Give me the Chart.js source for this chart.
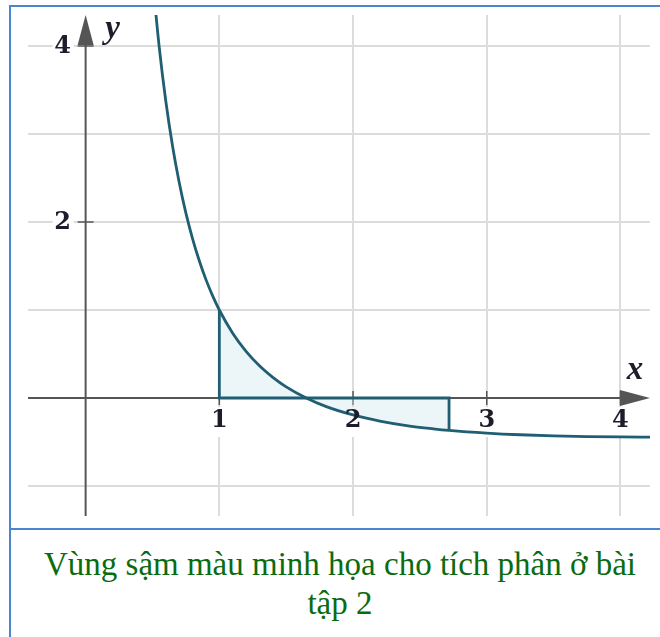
<!DOCTYPE html>
<html>
<head>
<meta charset="utf-8">
<script src="https://cdn.jsdelivr.net/npm/chart.js@4.4.1/dist/chart.umd.min.js"></script>
<style>
  body { margin: 0; background: #fff; width: 660px; height: 637px; overflow: hidden; position: relative; }
  .frame-top { position: absolute; left: 9px; top: 5px; width: 660px; height: 2px; background: #4a86d0; }
  .frame-left { position: absolute; left: 9px; top: 5px; width: 2px; height: 640px; background: #4a86d0; }
  .frame-sep { position: absolute; left: 9px; top: 528px; width: 660px; height: 2px; background: #4a86d0; }
  #plot { position: absolute; left: 0; top: 0; }
  .caption {
    position: absolute; left: 10px; top: 545px; width: 660px;
    text-align: center; font-family: "Liberation Serif", serif; font-size: 33px;
    line-height: 39px; color: #0b6b0f;
  }
</style>
</head>
<body>
<div class="frame-top"></div>
<div class="frame-left"></div>
<div class="frame-sep"></div>
<canvas id="plot" width="660" height="528"></canvas>
<div class="caption">Vùng sậm màu minh họa cho tích phân ở bài<br>tập 2</div>

<script>
// curve points
const curveX = [0.5, 0.55, 0.6, 0.65, 0.7, 0.75, 0.8, 0.85, 0.9, 0.95, 1.0, 1.1, 1.2, 1.3, 1.4, 1.5, 1.65, 1.8, 2.0, 2.2, 2.4, 2.6, 2.718, 3.0, 3.25, 3.5, 3.75, 4.0, 4.25]
const curveY = [4.773, 3.992, 3.369, 2.864, 2.448, 2.1, 1.808, 1.559, 1.345, 1.161, 1.0, 0.736, 0.53, 0.366, 0.234, 0.126, 0.0, -0.098, -0.193, -0.262, -0.313, -0.35, -0.368, -0.399, -0.418, -0.43, -0.438, -0.443, -0.446]

// shaded region: x from 1 to e
const shadeFrom = 1
const shadeTo = 2.718
const outlineX = [1, 1, 2.718, 2.718]
const outlineY = [1, 0, 0, -0.368]

const xGridValues = [1, 2, 3, 4]
const yGridValues = [-1, 1, 2, 3, 4]
const xTickValues = [1, 2, 3, 4]
const xTickLabels = ['1', '2', '3', '4']
const yTickValues = [2, 4]
const yTickLabels = ['2', '4']
const xAxisName = 'x'
const yAxisName = 'y'

const toPoints = (xs, ys) => xs.map((x, i) => ({ x: x, y: ys[i] }))
const curvePoints = toPoints(curveX, curveY)
const shadePoints = curvePoints.filter(p => p.x >= shadeFrom && p.x <= shadeTo)
const outlinePoints = toPoints(outlineX, outlineY)

const teal = '#1f5e73'
const axisColor = '#555'
const labelFont = 'bold 24px "DejaVu Serif", serif'

const axesPlugin = {
  id: 'axes',
  beforeDatasetsDraw(chart) {
    const { ctx, chartArea, scales } = chart
    const x0 = scales.x.getPixelForValue(0)
    const y0 = scales.y.getPixelForValue(0)
    ctx.save()
    // white patches behind the tick labels
    ctx.fillStyle = '#fff'
    xTickValues.forEach(v => {
      const px = scales.x.getPixelForValue(v)
      ctx.fillRect(px - 9, y0 + 9, 18, 30)
    })
    yTickValues.forEach(v => {
      const py = scales.y.getPixelForValue(v)
      ctx.fillRect(x0 - 33, py - 12, 21, 24)
    })

    ctx.strokeStyle = axisColor
    ctx.fillStyle = axisColor
    ctx.lineWidth = 2
    // y axis
    ctx.beginPath()
    ctx.moveTo(x0, chartArea.bottom)
    ctx.lineTo(x0, chartArea.top + 28)
    ctx.stroke()
    ctx.beginPath()
    ctx.moveTo(x0, chartArea.top)
    ctx.lineTo(x0 - 8, chartArea.top + 30)
    ctx.lineTo(x0 + 8, chartArea.top + 30)
    ctx.closePath()
    ctx.fill()
    // x axis
    ctx.beginPath()
    ctx.moveTo(chartArea.left, y0)
    ctx.lineTo(chartArea.right - 28, y0)
    ctx.stroke()
    ctx.beginPath()
    ctx.moveTo(chartArea.right, y0)
    ctx.lineTo(chartArea.right - 30, y0 - 8)
    ctx.lineTo(chartArea.right - 30, y0 + 8)
    ctx.closePath()
    ctx.fill()
    // tick marks
    ctx.lineWidth = 1.5
    xTickValues.forEach(v => {
      const px = scales.x.getPixelForValue(v)
      ctx.beginPath()
      ctx.moveTo(px, y0 - 7)
      ctx.lineTo(px, y0 + 7)
      ctx.stroke()
    })
    yTickValues.forEach(v => {
      const py = scales.y.getPixelForValue(v)
      ctx.beginPath()
      ctx.moveTo(x0 - 8, py)
      ctx.lineTo(x0 + 8, py)
      ctx.stroke()
    })
    ctx.restore()
  },
  afterDatasetsDraw(chart) {
    const { ctx, chartArea, scales } = chart
    const x0 = scales.x.getPixelForValue(0)
    const y0 = scales.y.getPixelForValue(0)
    ctx.save()
    ctx.fillStyle = '#1c1c2a'
    ctx.font = labelFont
    ctx.textAlign = 'center'
    ctx.textBaseline = 'middle'
    xTickValues.forEach((v, i) => {
      ctx.fillText(xTickLabels[i], scales.x.getPixelForValue(v), y0 + 23)
    })
    yTickValues.forEach((v, i) => {
      ctx.fillText(yTickLabels[i], x0 - 23, scales.y.getPixelForValue(v) + 1)
    })
    ctx.font = 'italic bold 33px "Liberation Serif", serif'
    ctx.fillText(yAxisName, x0 + 27, chartArea.top + 14)
    ctx.fillText(xAxisName, chartArea.right - 15, y0 - 28)
    ctx.restore()
  }
}

const ctx = document.getElementById('plot')
new Chart(ctx, {
  type: 'scatter',
  data: {
    datasets: [
      {
        data: curvePoints,
        showLine: true,
        borderColor: teal,
        borderWidth: 2.8,
        pointRadius: 0,
        cubicInterpolationMode: 'monotone',
        order: 1
      },
      {
        data: outlinePoints,
        showLine: true,
        borderColor: teal,
        borderWidth: 2.8,
        pointRadius: 0,
        order: 2
      },
      {
        data: shadePoints,
        showLine: true,
        borderWidth: 0,
        borderColor: 'rgba(0,0,0,0)',
        backgroundColor: 'rgba(200, 225, 233, 0.35)',
        fill: { value: 0 },
        pointRadius: 0,
        cubicInterpolationMode: 'monotone',
        order: 3
      }
    ]
  },
  options: {
    responsive: false,
    animation: false,
    layout: { padding: { left: 28, top: 15, right: 10, bottom: 12 } },
    plugins: { legend: { display: false }, tooltip: { enabled: false } },
    scales: {
      x: {
        type: 'linear',
        min: -0.431,
        max: 4.221,
        afterBuildTicks: scale => { scale.ticks = xGridValues.map(v => ({ value: v })) },
        ticks: { display: false },
        border: { display: false },
        grid: { color: '#dcdcdc', lineWidth: 2, drawTicks: false }
      },
      y: {
        type: 'linear',
        min: -1.341,
        max: 4.352,
        afterBuildTicks: scale => { scale.ticks = yGridValues.map(v => ({ value: v })) },
        ticks: { display: false },
        border: { display: false },
        grid: { color: '#dcdcdc', lineWidth: 2, drawTicks: false }
      }
    }
  },
  plugins: [axesPlugin]
})
</script>
</body>
</html>
